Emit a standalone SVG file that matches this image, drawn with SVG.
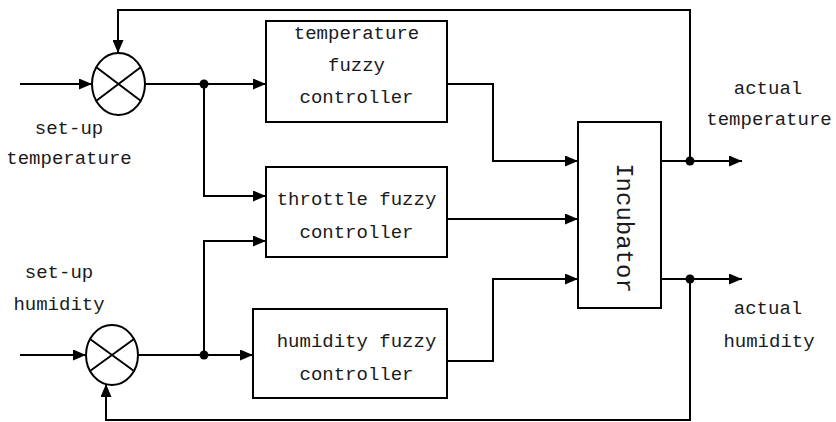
<svg xmlns="http://www.w3.org/2000/svg" width="836" height="422" viewBox="0 0 836 422">
<defs>
<marker id="arr" markerUnits="userSpaceOnUse" markerWidth="13" markerHeight="11" refX="13" refY="5.5" orient="auto">
<path d="M0,0 L13,5.5 L0,11 z" fill="#000"/>
</marker>
<style>
.ln{fill:none;stroke:#000;stroke-width:2}
.box{fill:#fff;stroke:#000;stroke-width:2}
.t{font-family:"Liberation Mono","DejaVu Sans Mono",monospace;font-size:19px;fill:#1a1a1a;text-anchor:middle}
.big{font-size:24px}
</style>
</defs>
<rect width="836" height="422" fill="#fff"/>
<g id="connectors">
<path class="ln" d="M20,84 H92" marker-end="url(#arr)"/>
<path class="ln" d="M690,161 V10 H118 V53" marker-end="url(#arr)"/>
<path class="ln" d="M145,84 H266" marker-end="url(#arr)"/>
<path class="ln" d="M204,84 V196 H266" marker-end="url(#arr)"/>
<path class="ln" d="M20,355 H86" marker-end="url(#arr)"/>
<path class="ln" d="M138,355 H253" marker-end="url(#arr)"/>
<path class="ln" d="M204,355 V241 H266" marker-end="url(#arr)"/>
<path class="ln" d="M690,279 V420 H106 V384" marker-end="url(#arr)"/>
<path class="ln" d="M447,84 H493 V161 H578" marker-end="url(#arr)"/>
<path class="ln" d="M447,219 H578" marker-end="url(#arr)"/>
<path class="ln" d="M447,361 H493 V279 H578" marker-end="url(#arr)"/>
<path class="ln" d="M661,161 H742" marker-end="url(#arr)"/>
<path class="ln" d="M661,279 H742" marker-end="url(#arr)"/>
<circle cx="204" cy="84" r="4.5"/>
<circle cx="204" cy="355" r="4.5"/>
<circle cx="690" cy="161" r="4.5"/>
<circle cx="690" cy="279" r="4.5"/>
</g>
<g id="sum-temperature">
<ellipse class="box" cx="118.5" cy="84" rx="26.5" ry="31"/>
<path class="ln" d="M96,67 L141,101 M141,67 L96,101"/>
</g>
<g id="sum-humidity">
<ellipse class="box" cx="112" cy="355" rx="26" ry="30"/>
<path class="ln" d="M90,339 L134,371 M134,339 L90,371"/>
</g>
<g id="temperature-controller">
<rect class="box" x="266" y="21" width="181" height="101"/>
<text class="t" x="356.5" y="39">temperature</text>
<text class="t" x="356.5" y="71">fuzzy</text>
<text class="t" x="356.5" y="103">controller</text>
</g>
<g id="throttle-controller">
<rect class="box" x="266" y="167" width="181" height="90"/>
<text class="t" x="356.5" y="205">throttle fuzzy</text>
<text class="t" x="356.5" y="238">controller</text>
</g>
<g id="humidity-controller">
<rect class="box" x="253" y="309" width="194" height="89"/>
<text class="t" x="356.5" y="347">humidity fuzzy</text>
<text class="t" x="356.5" y="380">controller</text>
</g>
<g id="incubator">
<rect class="box" x="578" y="122" width="83" height="186"/>
<text class="t big" transform="translate(617,228) rotate(90)" x="0" y="0">Incubator</text>
</g>
<g id="labels">
<text class="t" x="69" y="134">set-up</text>
<text class="t" x="69" y="164">temperature</text>
<text class="t" x="59" y="278">set-up</text>
<text class="t" x="59" y="310">humidity</text>
<text class="t" x="768" y="94">actual</text>
<text class="t" x="769" y="125">temperature</text>
<text class="t" x="768" y="314">actual</text>
<text class="t" x="769" y="347">humidity</text>
</g>
</svg>
